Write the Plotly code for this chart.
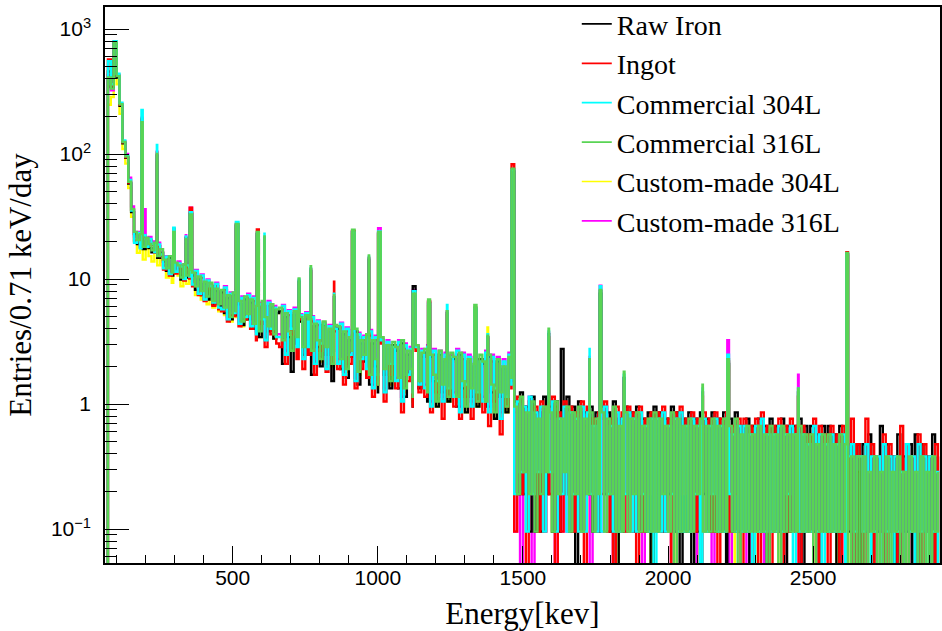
import numpy as np
import plotly.graph_objects as go

# ---------------- data ----------------
# counts per 0.71 keV bin, sampled every 10 keV from 60 keV; value = counts / live time
live_time_days = 10.5
bin_start_keV = 60
bin_step_keV = 10

raw_iron_counts = [
    0, 4800, 3600, 8100, 4300, 2550, 1280, 980, 610, 360,
    240, 200, 228, 182, 210, 186, 172, 192, 155, 170,
    145, 122, 155, 112, 138, 128, 104, 132, 108, 120,
    112, 86, 104, 78, 96, 72, 92, 66, 84, 62,
    82, 56, 74, 50, 78, 54, 66, 45, 72, 50,
    68, 42, 60, 36, 66, 48, 40, 62, 35, 56,
    58, 22, 52, 36, 19, 54, 32, 48, 26, 50,
    46, 18, 44, 30, 21, 45, 26, 40, 16, 42,
    42, 20, 38, 17, 34, 25, 40, 15, 32, 23,
    36, 15, 32, 21, 13, 34, 18, 29, 14, 31,
    28, 14, 32, 12, 26, 18, 10, 30, 14, 25,
    27, 11, 25, 16, 10, 26, 13, 23, 11, 25,
    24, 10, 26, 14, 9, 23, 12, 21, 10, 24,
    22, 10, 25, 13, 8, 23, 12, 20, 9, 24,
    16, 11, 2, 13, 2, 10, 1, 12, 1, 9,
    1, 12, 2, 10, 1, 11, 1, 9, 2, 12,
    1, 10, 0, 11, 1, 9, 2, 10, 1, 9,
    1, 10, 2, 9, 1, 11, 0, 8, 1, 10,
    2, 9, 1, 10, 1, 8, 1, 9, 0, 10,
    1, 9, 1, 8, 2, 10, 1, 9, 0, 8,
    1, 9, 0, 8, 1, 9, 2, 8, 1, 9,
    1, 8, 1, 9, 0, 8, 1, 9, 1, 7,
    1, 8, 0, 7, 1, 8, 1, 7, 0, 8,
    1, 7, 1, 8, 0, 7, 1, 7, 1, 8,
    0, 7, 1, 7, 1, 6, 0, 7, 1, 7,
    1, 6, 0, 7, 1, 6, 1, 5, 0, 5,
    0, 5, 1, 6, 0, 4, 1, 7, 0, 5,
    1, 4, 0, 6, 0, 4, 1, 5, 0, 6,
    0, 5, 1, 4, 0, 6, 0, 4,
]

ingot_counts = [
    0, 6000, 3700, 8300, 4500, 2600, 1300, 990, 620, 375,
    210, 238, 188, 228, 195, 215, 196, 170, 192, 160,
    125, 152, 112, 146, 116, 136, 128, 102, 130, 106,
    92, 118, 78, 108, 70, 98, 88, 64, 92, 60,
    58, 86, 48, 76, 53, 80, 44, 70, 50, 74,
    42, 70, 34, 62, 46, 30, 64, 38, 58, 32,
    30, 60, 22, 54, 38, 56, 24, 50, 20, 52,
    26, 48, 18, 45, 28, 43, 19, 41, 22, 40,
    20, 43, 15, 40, 22, 37, 14, 36, 20, 34,
    17, 37, 12, 34, 15, 32, 11, 31, 18, 29,
    14, 31, 9, 29, 16, 27, 10, 28, 13, 26,
    12, 28, 9, 26, 13, 25, 8, 24, 12, 23,
    10, 26, 8, 24, 12, 23, 8, 22, 11, 22,
    9, 25, 7, 23, 11, 22, 6, 21, 10, 24,
    14, 1, 12, 2, 9, 0, 11, 2, 10, 1,
    11, 1, 10, 2, 12, 0, 9, 1, 11, 2,
    10, 1, 9, 1, 11, 0, 10, 2, 8, 1,
    9, 2, 11, 1, 8, 0, 10, 1, 9, 1,
    10, 1, 9, 0, 10, 1, 8, 2, 9, 1,
    9, 1, 10, 1, 8, 0, 9, 1, 10, 2,
    8, 1, 9, 1, 8, 0, 9, 1, 8, 1,
    9, 0, 8, 1, 9, 1, 7, 2, 8, 0,
    8, 1, 7, 1, 8, 0, 9, 1, 7, 0,
    7, 1, 8, 0, 7, 1, 8, 1, 7, 0,
    7, 1, 6, 1, 8, 0, 7, 1, 6, 0,
    7, 1, 6, 0, 7, 1, 5, 8, 0, 5,
    4, 0, 8, 1, 5, 0, 4, 1, 6, 0,
    5, 1, 4, 0, 7, 0, 5, 1, 4, 1,
    6, 0, 5, 1, 4, 0, 5, 0,
]

commercial_304l_counts = [
    0, 5800, 3800, 8400, 4600, 2700, 1350, 1020, 650, 370,
    205, 245, 185, 235, 190, 220, 200, 172, 198, 165,
    128, 158, 115, 150, 120, 140, 132, 105, 135, 110,
    95, 122, 80, 112, 72, 102, 92, 68, 96, 62,
    60, 90, 50, 80, 56, 84, 46, 74, 52, 78,
    44, 74, 38, 66, 50, 34, 68, 42, 62, 36,
    36, 64, 26, 58, 42, 60, 30, 54, 24, 56,
    30, 52, 22, 48, 32, 46, 20, 44, 26, 42,
    22, 46, 18, 42, 26, 40, 16, 38, 24, 36,
    20, 40, 14, 36, 18, 34, 13, 33, 22, 30,
    16, 33, 11, 31, 18, 29, 13, 30, 15, 28,
    14, 30, 10, 28, 16, 27, 11, 26, 14, 25,
    12, 28, 9, 26, 15, 25, 10, 24, 13, 23,
    11, 27, 9, 25, 14, 24, 8, 23, 12, 26,
    15, 2, 11, 3, 10, 1, 12, 2, 9, 3,
    10, 1, 9, 3, 11, 1, 8, 2, 10, 1,
    9, 2, 8, 1, 10, 1, 9, 2, 7, 1,
    8, 1, 10, 2, 7, 1, 9, 1, 8, 2,
    9, 1, 8, 1, 9, 2, 7, 1, 8, 0,
    8, 1, 9, 1, 7, 2, 8, 1, 9, 1,
    7, 1, 8, 2, 7, 0, 8, 1, 7, 2,
    8, 1, 7, 1, 8, 2, 6, 1, 7, 1,
    7, 1, 6, 0, 7, 1, 8, 1, 6, 1,
    6, 1, 7, 1, 6, 2, 7, 0, 6, 1,
    6, 1, 5, 1, 7, 1, 6, 0, 5, 1,
    6, 1, 5, 1, 6, 0, 4, 5, 1, 4,
    4, 1, 5, 0, 4, 1, 4, 0, 5, 1,
    4, 0, 4, 1, 3, 0, 5, 1, 4, 0,
    5, 1, 4, 0, 4, 1, 3, 0,
]

commercial_316l_counts = [
    0, 4300, 3500, 8200, 4410, 2625, 1310, 1000, 630, 380,
    250, 215, 240, 190, 225, 200, 178, 205, 160, 182,
    150, 128, 160, 118, 142, 135, 108, 138, 112, 125,
    118, 92, 110, 84, 100, 76, 98, 70, 88, 66,
    86, 62, 78, 52, 82, 58, 70, 48, 76, 55,
    72, 46, 64, 40, 70, 52, 44, 66, 38, 60,
    62, 34, 56, 40, 28, 58, 36, 52, 30, 54,
    50, 28, 46, 34, 24, 48, 30, 42, 22, 45,
    44, 24, 40, 20, 36, 28, 42, 19, 34, 26,
    38, 18, 34, 24, 15, 36, 20, 31, 16, 33,
    30, 17, 34, 14, 28, 20, 12, 31, 16, 27,
    29, 13, 26, 18, 11, 28, 15, 24, 12, 27,
    25, 12, 27, 16, 10, 24, 14, 22, 11, 26,
    23, 11, 26, 15, 9, 24, 13, 21, 10, 25,
    17, 10, 2, 12, 3, 9, 2, 11, 1, 8,
    2, 10, 3, 9, 1, 11, 2, 8, 3, 10,
    1, 9, 2, 10, 1, 8, 2, 9, 1, 8,
    2, 9, 1, 8, 2, 10, 1, 7, 1, 9,
    1, 8, 2, 9, 1, 7, 1, 8, 1, 9,
    1, 8, 2, 7, 1, 9, 0, 8, 1, 7,
    1, 8, 1, 7, 2, 8, 1, 7, 1, 8,
    1, 7, 1, 8, 1, 7, 1, 8, 0, 6,
    1, 7, 1, 6, 1, 7, 1, 6, 0, 7,
    1, 6, 0, 7, 1, 6, 1, 6, 1, 7,
    1, 6, 1, 6, 0, 5, 1, 6, 1, 6,
    1, 5, 1, 6, 1, 5, 0, 4, 0, 4,
    0, 4, 0, 3, 1, 4, 0, 3, 0, 4,
    0, 3, 1, 4, 0, 3, 0, 4, 1, 3,
    0, 4, 0, 3, 0, 4, 1, 3,
]

custom_304l_counts = [
    0, 2600, 3000, 6800, 3800, 2200, 1150, 880, 560, 330,
    215, 170, 200, 150, 185, 160, 145, 170, 135, 150,
    128, 108, 135, 98, 122, 112, 92, 118, 96, 108,
    102, 78, 96, 72, 90, 66, 86, 62, 80, 58,
    80, 54, 72, 48, 76, 52, 64, 44, 70, 50,
    66, 42, 60, 36, 64, 46, 40, 62, 35, 56,
    58, 32, 52, 38, 28, 54, 34, 48, 28, 50,
    47, 27, 43, 32, 23, 45, 28, 40, 21, 42,
    41, 22, 38, 19, 34, 26, 39, 18, 32, 24,
    35, 17, 32, 22, 14, 34, 19, 29, 15, 31,
    28, 16, 32, 13, 26, 19, 11, 29, 15, 25,
    27, 12, 24, 17, 10, 26, 14, 22, 11, 25,
    23, 11, 25, 15, 9, 22, 13, 20, 10, 24,
    21, 10, 24, 14, 8, 22, 12, 20, 9, 23,
    15, 9, 2, 11, 2, 8, 1, 10, 1, 7,
    2, 9, 2, 8, 1, 10, 1, 7, 2, 9,
    1, 8, 1, 9, 1, 7, 1, 8, 1, 7,
    1, 8, 1, 7, 1, 9, 0, 7, 1, 8,
    1, 7, 1, 8, 1, 7, 1, 8, 0, 8,
    1, 7, 1, 8, 1, 7, 0, 7, 1, 7,
    1, 7, 1, 7, 0, 8, 1, 6, 1, 7,
    1, 6, 1, 7, 1, 7, 0, 6, 1, 6,
    1, 6, 1, 7, 0, 6, 1, 5, 1, 6,
    1, 6, 0, 6, 1, 5, 1, 6, 1, 6,
    1, 5, 1, 6, 0, 5, 1, 5, 1, 5,
    1, 5, 0, 5, 1, 4, 0, 4, 1, 3,
    0, 3, 1, 4, 0, 3, 0, 3, 1, 4,
    0, 3, 0, 4, 1, 3, 0, 3, 0, 3,
    1, 3, 0, 4, 0, 3, 0, 3,
]

custom_316l_counts = [
    0, 4500, 3400, 8000, 4400, 2650, 1330, 1050, 680, 400,
    230, 250, 195, 242, 200, 228, 210, 180, 205, 172,
    135, 160, 118, 152, 124, 145, 135, 108, 140, 112,
    96, 124, 82, 114, 74, 104, 94, 70, 98, 64,
    62, 92, 52, 82, 58, 86, 48, 76, 54, 80,
    46, 76, 40, 68, 52, 36, 70, 44, 64, 38,
    38, 65, 28, 59, 44, 62, 32, 55, 26, 57,
    31, 53, 23, 49, 34, 47, 22, 45, 28, 43,
    24, 47, 19, 43, 27, 41, 17, 39, 25, 37,
    21, 41, 15, 37, 19, 35, 14, 34, 23, 31,
    17, 34, 12, 32, 19, 30, 14, 31, 16, 29,
    15, 31, 11, 29, 17, 28, 12, 27, 15, 26,
    13, 29, 10, 27, 16, 26, 11, 25, 14, 24,
    12, 28, 10, 26, 15, 25, 9, 24, 13, 27,
    17, 1, 11, 0, 10, 2, 12, 0, 9, 2,
    10, 1, 9, 2, 11, 0, 8, 1, 10, 1,
    9, 1, 8, 1, 10, 1, 9, 0, 7, 2,
    8, 1, 10, 1, 7, 0, 9, 1, 8, 1,
    9, 1, 8, 1, 9, 0, 7, 1, 8, 1,
    8, 1, 9, 1, 7, 0, 8, 1, 9, 1,
    7, 1, 8, 0, 7, 1, 8, 1, 7, 0,
    8, 1, 7, 1, 8, 0, 6, 1, 7, 1,
    7, 0, 6, 1, 7, 1, 8, 0, 6, 1,
    6, 1, 7, 0, 6, 1, 7, 1, 6, 0,
    6, 1, 5, 1, 7, 0, 6, 1, 5, 1,
    6, 1, 5, 0, 6, 1, 4, 5, 0, 4,
    4, 0, 5, 1, 4, 0, 4, 1, 5, 0,
    4, 1, 4, 0, 3, 1, 5, 0, 4, 0,
    5, 0, 4, 1, 4, 0, 3, 1,
]

# gamma lines (keV) and peak-bin counts per sample (None = no visible line)
peak_energy_keV = [139.5, 185.7, 198.0, 238.6, 295.2, 338.3, 351.9, 510.8, 583.2,
                   609.3, 727.3, 768.4, 849.0, 911.2, 968.9, 1001.0, 1120.3, 1173.2,
                   1238.1, 1332.5, 1377.7, 1460.8, 1588.2, 1630.6, 1729.6, 1764.5,
                   1847.4, 2118.5, 2204.2, 2447.9, 2614.5]
raw_iron_peaks = [None, 1950, None, 1020, 255, 225, 350, 280, 240, 225, 100, 122, 75, 250,
                  150, 245, 92, 68, 56, 60, 36, 760, 38, 29, 24, 80, 17, 13, 22, 13, 165]
ingot_peaks = [None, 2000, None, 1080, 265, 215, 390, 285, 262, 220, 98, 125, 100, 255,
               155, 240, 82, 70, 58, 62, 35, 870, 36, None, 23, 84, 16, 12, 23, 12, 172]
commercial_304l_peaks = [None, 2360, None, 1240, 270, 230, 360, 300, 245, 242, 104, 128, 80,
                         248, 158, 252, 84, 66, 65, 61, 38, 780, 40, None, 29, 92, 18, 14,
                         26, 14, 168]
commercial_316l_peaks = [None, 1890, None, 1050, 250, 220, 345, 290, 250, 230, 106, 133, 78,
                         260, 162, 250, 80, 72, 58, 65, 37, 800, 42, None, 24, 86, 19, 15,
                         24, 14, 170]
custom_304l_peaks = [None, 1700, None, 900, 230, 200, 320, 265, 230, 210, 95, 118, 72, 240,
                     148, 238, 78, 64, 54, 58, 43, 770, 35, None, 22, 80, 15, 12, 21, 12, 160]
custom_316l_peaks = [900, 2050, 380, 1100, 250, 235, 390, 290, 245, 215, 102, 126, 76, 252,
                     155, 268, 86, 69, 57, 60, 36, 790, 39, None, 25, 93, 17, 13, 34, 18, 166]

series_names = ["Raw Iron", "Ingot", "Commercial 304L", "Commercial 316L",
                "Custom-made 304L", "Custom-made 316L"]
series_colors = ["#000000", "#ff0000", "#00ffff", "#59d454", "#ffff00", "#ff00ff"]
series_counts = [raw_iron_counts, ingot_counts, commercial_304l_counts,
                 commercial_316l_counts, custom_304l_counts, custom_316l_counts]
series_peaks = [raw_iron_peaks, ingot_peaks, commercial_304l_peaks,
                commercial_316l_peaks, custom_304l_peaks, custom_316l_peaks]
draw_order = [4, 5, 0, 1, 2, 3]   # green drawn last (on top)

x_ticks = [500, 1000, 1500, 2000, 2500]
y_tick_vals = [0.1, 1, 10, 100, 1000]
y_tick_text = ["10<sup>\u22121</sup>", "1", "10", "10<sup>2</sup>", "10<sup>3</sup>"]

# empty bins are drawn down to the bottom of the log frame (as ROOT does)
empty_bin_floor = 0.02


def build(counts, peaks):
    n = len(counts)
    assert n == 288, n
    xs = list(bin_start_keV + bin_step_keV * np.arange(n))
    ys = list(counts)
    for e, c in zip(peak_energy_keV, peaks):
        if c is None:
            continue
        xs.append(e)
        ys.append(c)
    order = np.argsort(np.array(xs, dtype=float), kind="stable")
    x = np.array(xs, dtype=float)[order]
    y = np.array(ys, dtype=float)[order] / live_time_days
    y[y <= 0] = empty_bin_floor
    return x, y


fig = go.Figure()
for i in draw_order:
    x, y = build(series_counts[i], series_peaks[i])
    fig.add_trace(go.Scatter(
        x=x, y=y, mode="lines", name=series_names[i],
        line=dict(color=series_colors[i], width=2.4, shape="hv"),
        showlegend=False, legendgroup=series_names[i], hoverinfo="skip",
    ))
# legend entries with thin sample lines (as in the ROOT legend)
for i in range(len(series_names)):
    fig.add_trace(go.Scatter(
        x=[None], y=[None], mode="lines", name=series_names[i],
        line=dict(color=series_colors[i], width=1.7),
        legendgroup=series_names[i], showlegend=True, legendrank=i + 1,
    ))

fig.update_layout(
    width=942, height=631,
    margin=dict(l=105, r=2, t=7, b=68, autoexpand=False),
    paper_bgcolor="white", plot_bgcolor="white",
    font=dict(family="Liberation Serif", color="black"),
    showlegend=True,
    legend=dict(x=0.565, y=1.014, xanchor="left", yanchor="top",
                bgcolor="rgba(0,0,0,0)", borderwidth=0,
                font=dict(family="Liberation Serif", size=28, color="black"),
                itemwidth=30, tracegroupgap=0, traceorder="normal"),
)
fig.update_xaxes(
    range=[60, 2937], showline=True, mirror=True, linecolor="black", linewidth=1.5,
    showgrid=False, zeroline=False, automargin=False,
    tickmode="array", tickvals=x_ticks, ticktext=[str(t) for t in x_ticks],
    ticks="inside", ticklen=17, tickwidth=1, tickcolor="black",
    tickfont=dict(family="Liberation Sans", size=21, color="black"),
    ticklabelstandoff=-5,
    minor=dict(ticks="inside", ticklen=8, tickwidth=1, tickcolor="black",
               tickmode="linear", tick0=0, dtick=100),
    title=dict(text="Energy[kev]", font=dict(family="Liberation Serif", size=31),
               standoff=15),
)
minor_y = [m * 10.0 ** p for p in range(-2, 4) for m in range(2, 10)]
fig.update_yaxes(
    type="log", range=[-1.272, 3.176], showline=True, mirror=True, linecolor="black",
    linewidth=1.5, showgrid=False, zeroline=False, automargin=False,
    tickmode="array", tickvals=y_tick_vals, ticktext=y_tick_text,
    ticks="inside", ticklen=24, tickwidth=1, tickcolor="black",
    tickfont=dict(family="Liberation Sans", size=21, color="black"),
    ticklabelstandoff=8,
    minor=dict(ticks="inside", ticklen=12, tickwidth=1, tickcolor="black",
               tickmode="array", tickvals=minor_y),
    title=dict(text="Entries/0.71 keV/day", font=dict(family="Liberation Serif", size=31),
               standoff=10),
)

fig.write_html("out.html", config={"displayModeBar": False},
               post_script="document.body.style.margin='0';document.body.style.padding='0';")
